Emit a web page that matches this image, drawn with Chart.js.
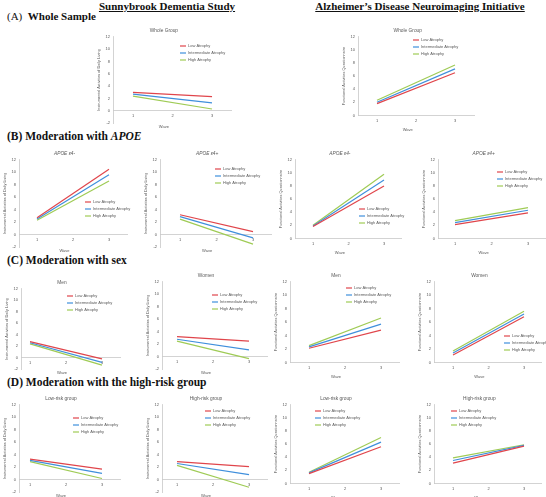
<!DOCTYPE html>
<html>
<head>
<meta charset="utf-8">
<script src="https://cdn.jsdelivr.net/npm/chart.js@4.4.0/dist/chart.umd.min.js"></script>
<style>
  html, body { margin: 0; padding: 0; background: #fff; overflow: hidden; }
  #wrap { position: relative; width: 546px; height: 497px; overflow: hidden; }
  #wrap canvas { position: absolute; }
  .hd { position: absolute; font-family: "Liberation Serif", serif; font-weight: bold; color: #111; white-space: nowrap; }
  .study { font-size: 11px; text-decoration: underline; top: 0px; transform: translateX(-50%); }
  .sec { font-size: 11.5px; left: 7px; }
  .sec .lab { font-weight: normal; }
</style>
</head>
<body>
<div id="wrap">
  <div class="hd study" style="left:167px">Sunnybrook Dementia Study</div>
  <div class="hd study" style="left:420px">Alzheimer’s Disease Neuroimaging Initiative</div>
  <div class="hd sec" style="top:10px;font-size:11px"><span class="lab">(A)</span>&nbsp;&nbsp;Whole Sample</div>
  <div class="hd sec" style="top:130px">(B) Moderation with <i>APOE</i></div>
  <div class="hd sec" style="top:254px">(C) Moderation with sex</div>
  <div class="hd sec" style="top:376px">(D) Moderation with the high-risk group</div>
</div>
<script>
// categories and series
const waves = ["1", "2", "3"];
const groups = ["Low Atrophy", "Intermediate Atrophy", "High Atrophy"];
const colors = ["#e0454b", "#3f8fdc", "#9fcb55"];

// values at wave 1 and wave 3 (low, intermediate, high atrophy)
const sdsWhole   = [[3.0, null, 2.3], [2.7, null, 1.3], [2.4, null, 0.3]];
const adniWhole  = [[1.8, null, 6.5], [2.0, null, 7.1], [2.3, null, 7.7]];
const sdsE4neg   = [[2.7, null, 10.5], [2.5, null, 9.6], [2.3, null, 8.6]];
const sdsE4pos   = [[3.2, null, 0.5], [2.9, null, -0.5], [2.5, null, -1.5]];
const adniE4neg  = [[1.8, null, 8.0], [1.9, null, 8.9], [2.0, null, 9.8]];
const adniE4pos  = [[2.1, null, 3.9], [2.4, null, 4.3], [2.7, null, 4.7]];
const sdsMen     = [[2.8, null, -0.2], [2.6, null, -0.8], [2.4, null, -1.3]];
const sdsWomen   = [[3.2, null, 2.5], [2.8, null, 1.1], [2.5, null, -0.3]];
const adniMen    = [[2.1, null, 4.8], [2.3, null, 5.7], [2.5, null, 6.6]];
const adniWomen  = [[1.1, null, 6.8], [1.4, null, 7.2], [1.7, null, 7.6]];
const sdsLowRisk  = [[3.3, null, 1.7], [3.1, null, 1.0], [2.9, null, 0.2]];
const sdsHighRisk = [[2.9, null, 2.1], [2.6, null, 0.8], [2.3, null, -1.2]];
const adniLowRisk  = [[1.5, null, 5.6], [1.6, null, 6.3], [1.7, null, 7.0]];
const adniHighRisk = [[3.1, null, 5.7], [3.5, null, 5.8], [3.9, null, 5.9]];

const sdsYLabel = "Instrumental Activities of Daily Living";
const adniYLabel = "Functional Activities Questionnaire";
const sdsTicks = [-2, 12];
const adniTicks = [0, 12];

// layout of each panel (page pixels): y-axis x, wave-1 x, wave-3 x, top/bottom of axis, title centre, legend anchor
const panels = [
  { data: sdsWhole,   kind: "sds",  title: "Whole Group", ax: 113, w1: 133, w3: 212, top: 37,  bottom: 123, tx: 186, lx: 180, ly: 46 },
  { data: adniWhole,  kind: "adni", title: "Whole Group", ax: 358, w1: 377, w3: 455, top: 37,  bottom: 115, tx: 433, lx: 413, ly: 40 },
  { data: sdsE4neg,   kind: "sds",  title: "APOE ε4-", italic: true, ax: 19,  w1: 37,  w3: 109, top: 160, bottom: 247, tx: 87,  lx: 85,  ly: 202 },
  { data: sdsE4pos,   kind: "sds",  title: "APOE ε4+", italic: true, ax: 160, w1: 180, w3: 253, top: 160, bottom: 247, tx: 223, lx: 215, ly: 169 },
  { data: adniE4neg,  kind: "adni", title: "APOE ε4-", italic: true, ax: 295, w1: 313, w3: 384, top: 160, bottom: 238, tx: 358, lx: 359, ly: 209 },
  { data: adniE4pos,  kind: "adni", title: "APOE ε4+", italic: true, ax: 438, w1: 455, w3: 528, top: 160, bottom: 238, tx: 503, lx: 497, ly: 172 },
  { data: sdsMen,     kind: "sds",  title: "Men",   ax: 21,  w1: 30,  w3: 102, top: 289, bottom: 369, tx: 82,  lx: 67,  ly: 296 },
  { data: sdsWomen,   kind: "sds",  title: "Women", ax: 162, w1: 177, w3: 249, top: 282, bottom: 369, tx: 223, lx: 212, ly: 295 },
  { data: adniMen,    kind: "adni", title: "Men",   ax: 290, w1: 309, w3: 381, top: 282, bottom: 362, tx: 360, lx: 346, ly: 288 },
  { data: adniWomen,  kind: "adni", title: "Women", ax: 434, w1: 453, w3: 524, top: 282, bottom: 362, tx: 503, lx: 504, ly: 336 },
  { data: sdsLowRisk,   kind: "sds",  title: "Low-risk group",  ax: 19,  w1: 30,  w3: 102, top: 405, bottom: 492, tx: 80,  lx: 73,  ly: 418 },
  { data: sdsHighRisk,  kind: "sds",  title: "High-risk group", ax: 162, w1: 177, w3: 249, top: 405, bottom: 492, tx: 212, lx: 205, ly: 411 },
  { data: adniLowRisk,  kind: "adni", title: "Low-risk group",  ax: 290, w1: 309, w3: 381, top: 405, bottom: 483, tx: 352, lx: 315, ly: 411 },
  { data: adniHighRisk, kind: "adni", title: "High-risk group", ax: 434, w1: 453, w3: 524, top: 405, bottom: 483, tx: 500, lx: 451, ly: 411 }
];

const FONT = "'Liberation Sans', Arial, sans-serif";
const TXT = "#595959";
const AXIS = "#c8c8c8";

// legend drawn inside the plot, like the Excel originals
const insideLegend = {
  id: "insideLegend",
  afterDraw(chart, args, o) {
    if (o.x == null) return;
    const ctx = chart.ctx;
    ctx.save();
    ctx.font = "4px " + FONT;
    ctx.textBaseline = "middle";
    chart.data.datasets.forEach(function (ds, i) {
      const y = o.y + i * 7;
      ctx.strokeStyle = ds.borderColor;
      ctx.lineWidth = 1.2;
      ctx.beginPath();
      ctx.moveTo(o.x, y);
      ctx.lineTo(o.x + 6, y);
      ctx.stroke();
      ctx.fillStyle = TXT;
      ctx.fillText(ds.label, o.x + 8, y);
    });
    ctx.restore();
  }
};

function config(p, padR, leg) {
  const sds = p.kind === "sds";
  const rng = sds ? sdsTicks : adniTicks;
  const s = (p.w3 - p.w1) / 2;
  return {
    type: "line",
    data: {
      labels: waves,
      datasets: groups.map(function (g, i) {
        return { label: g, data: p.data[i], borderColor: colors[i], borderWidth: 1.2,
                 pointRadius: 0, spanGaps: true, tension: 0, fill: false };
      })
    },
    options: {
      responsive: false, animation: false, devicePixelRatio: 1,
      layout: { padding: { left: 0, right: padR, top: 0, bottom: 0 } },
      plugins: {
        legend: { display: false },
        tooltip: { enabled: false },
        title: { display: true, text: p.title, color: TXT,
                 font: { family: FONT, size: 4.8, weight: "normal", style: p.italic ? "italic" : "normal" },
                 padding: { top: 0, bottom: 3 } },
        subtitle: { display: true, position: "bottom", text: "Wave", color: TXT,
                    font: { family: FONT, size: 4 }, padding: { top: 1, bottom: 0 } },
        insideLegend: leg || {}
      },
      scales: {
        x: {
          type: "linear",
          min: 1 - (p.w1 - p.ax) / s, max: 3.5,
          position: sds ? { y: 0 } : "bottom",
          grid: { display: false, drawTicks: false },
          border: { color: AXIS, width: 0.8 },
          afterBuildTicks: function (axis) { axis.ticks = waves.map(function (w) { return { value: +w }; }); },
          ticks: { color: TXT, font: { family: FONT, size: 4 }, padding: 3 }
        },
        y: {
          min: rng[0], max: rng[1],
          grid: { display: false, drawTicks: false },
          border: { color: AXIS, width: 0.8 },
          ticks: { stepSize: 2, color: TXT, font: { family: FONT, size: 4 }, padding: 3 },
          title: { display: true, text: sds ? sdsYLabel : adniYLabel, color: TXT,
                   font: { family: FONT, size: 3.8 }, padding: 1 }
        }
      }
    },
    plugins: [insideLegend]
  };
}

function makeChart(p, w, h, padR, leg) {
  const cv = document.createElement("canvas");
  cv.width = w; cv.height = h;
  cv.style.width = w + "px"; cv.style.height = h + "px";
  document.getElementById("wrap").appendChild(cv);
  return { cv: cv, chart: new Chart(cv, config(p, padR, leg)) };
}

panels.forEach(function (p) {
  // measure the decorations around the plot area, then size the real chart
  const probe = makeChart(p, 200, 150, 0);
  const ca = probe.chart.chartArea;
  const dL = ca.left, dT = ca.top, dR = 200 - ca.right, dB = 150 - ca.bottom;
  probe.chart.destroy();
  probe.cv.remove();

  const s = (p.w3 - p.w1) / 2;
  const PL = p.ax, PR = p.w3 + s / 2;
  const left = Math.round(PL - dL), top = Math.round(p.top - dT);
  let W = Math.round(2 * (p.tx - left));
  let padR = W - (PR - left) - dR;
  if (padR < 0) { padR = 0; W = Math.round(PR - left + dR); }
  const H = Math.round(p.bottom - top + dB);
  const made = makeChart(p, W, H, padR, { x: p.lx - left, y: p.ly - top });
  made.cv.style.left = left + "px";
  made.cv.style.top = top + "px";
});
</script>
</body>
</html>
